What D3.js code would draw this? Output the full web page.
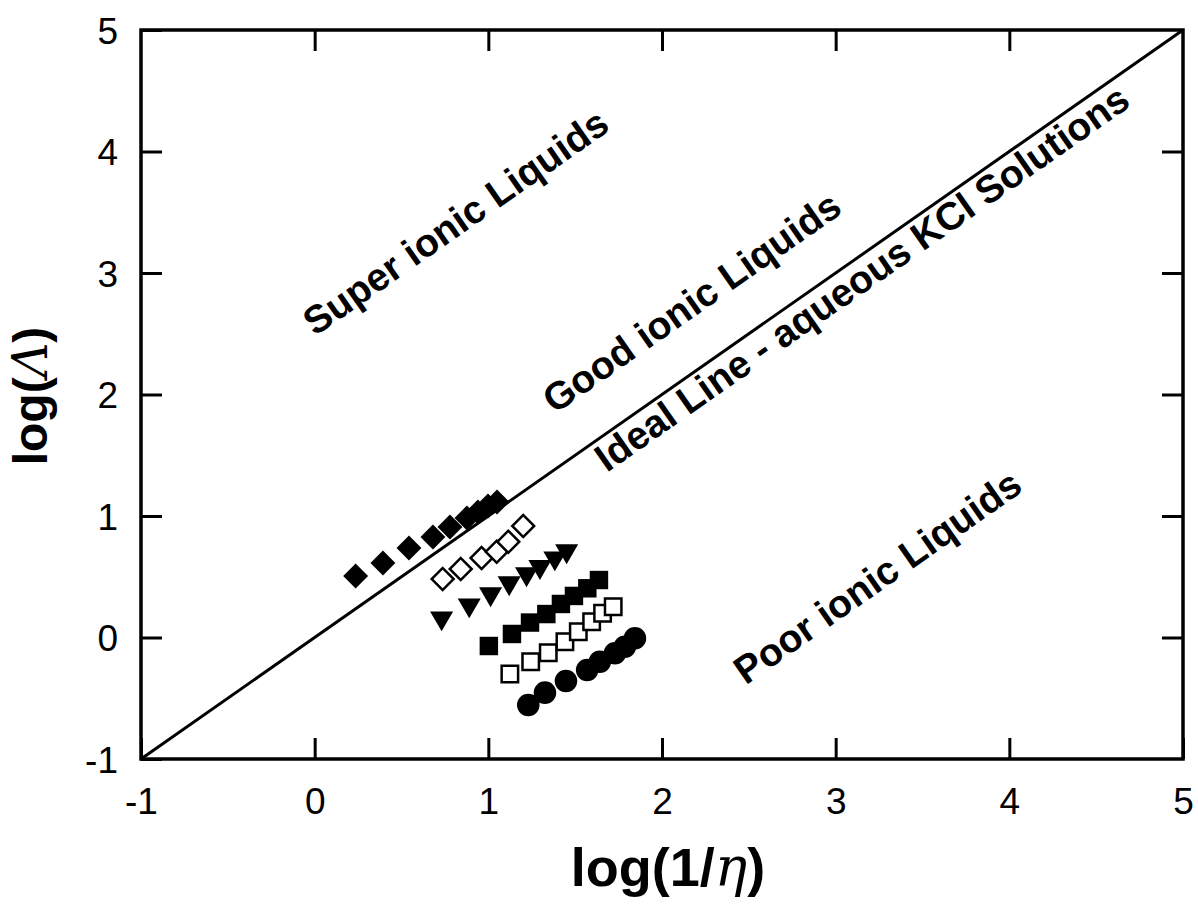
<!DOCTYPE html>
<html>
<head>
<meta charset="utf-8">
<script src="https://cdn.jsdelivr.net/npm/d3@7"></script>
<style>
  body { margin: 0; background: #fff; }
  text { font-family: "Liberation Sans", Arial, sans-serif; }
</style>
</head>
<body>
<div class="chart"></div>
<script>
// data: log(1/eta) vs log(Lambda)
var filledDiamondX = [0.236, 0.393, 0.543, 0.681, 0.779, 0.877, 0.940, 0.998, 1.050];
var filledDiamondY = [0.506, 0.613, 0.737, 0.827, 0.909, 0.984, 1.033, 1.082, 1.115];

var openDiamondX = [0.737, 0.841, 0.961, 1.048, 1.115, 1.201];
var openDiamondY = [0.481, 0.564, 0.654, 0.706, 0.788, 0.918];

var triangleX = [0.731, 0.890, 1.013, 1.120, 1.220, 1.297, 1.383, 1.451];
var triangleY = [0.160, 0.267, 0.358, 0.449, 0.523, 0.583, 0.654, 0.712];

var filledSquareX = [1.003, 1.136, 1.240, 1.334, 1.418, 1.493, 1.570, 1.637];
var filledSquareY = [-0.070, 0.029, 0.123, 0.193, 0.276, 0.342, 0.405, 0.473];

var openSquareX = [1.124, 1.244, 1.345, 1.441, 1.518, 1.595, 1.658, 1.719];
var openSquareY = [-0.300, -0.199, -0.125, -0.035, 0.048, 0.130, 0.199, 0.253];

var circleX = [1.230, 1.326, 1.447, 1.569, 1.642, 1.729, 1.786, 1.844];
var circleY = [-0.556, -0.454, -0.358, -0.267, -0.199, -0.130, -0.076, -0.007];

var idealLine = [-1, 5];
var xTicks = [-1, 0, 1, 2, 3, 4, 5];
var yTicks = [-1, 0, 1, 2, 3, 4, 5];

var regionLabels = [
  { text: "Super ionic Liquids", x: 0.81, y: 3.42 },
  { text: "Good ionic Liquids", x: 2.17, y: 2.76 },
  { text: "Ideal Line - aqueous KCl Solutions", x: 3.15, y: 2.96 },
  { text: "Poor ionic Liquids", x: 3.24, y: 0.50 }
];

var svgWidth = 1198;
var svgHeight = 916;
var margin = { top: 30, right: 15, bottom: 157, left: 141 };
var width = svgWidth - margin.left - margin.right;
var height = svgHeight - margin.top - margin.bottom;

var svg = d3.select(".chart")
  .append("svg")
  .attr("width", svgWidth)
  .attr("height", svgHeight);

var chartGroup = svg.append("g")
  .attr("transform", `translate(${margin.left}, ${margin.top})`);

var xScale = d3.scaleLinear().domain([-1, 5]).range([0, width]);
var yScale = d3.scaleLinear().domain([-1, 5]).range([height, 0]);

var fmt = d => String(d);

// axes, ticks pointing inward
var bottomAxis = d3.axisBottom(xScale).tickValues(xTicks).tickFormat(fmt).tickSizeInner(-21).tickSizeOuter(0).tickPadding(29);
var leftAxis = d3.axisLeft(yScale).tickValues(yTicks).tickFormat(fmt).tickSizeInner(-21).tickSizeOuter(0).tickPadding(23);
var topAxis = d3.axisTop(xScale).tickValues(xTicks.slice(1, -1)).tickSizeInner(-21).tickSizeOuter(0).tickFormat("");
var rightAxis = d3.axisRight(yScale).tickValues(yTicks.slice(1, -1)).tickSizeInner(-21).tickSizeOuter(0).tickFormat("");

function styleAxis(g) {
  g.select(".domain").remove();
  g.selectAll(".tick line").attr("stroke", "#000").attr("stroke-width", 3);
  g.selectAll(".tick text")
    .attr("fill", "#000")
    .attr("font-size", "37px");
}

chartGroup.append("g")
  .attr("transform", `translate(0, ${height})`)
  .call(bottomAxis)
  .call(styleAxis);

chartGroup.append("g")
  .call(leftAxis)
  .call(styleAxis)
  .selectAll(".tick text").attr("text-anchor", "end").attr("dy", "0.36em");

chartGroup.append("g").call(topAxis).call(styleAxis);
chartGroup.append("g").attr("transform", `translate(${width}, 0)`).call(rightAxis).call(styleAxis);

// frame
chartGroup.append("rect")
  .attr("x", 0).attr("y", 0)
  .attr("width", width).attr("height", height)
  .attr("fill", "none")
  .attr("stroke", "#000")
  .attr("stroke-width", 3.5);

// ideal line
chartGroup.append("line")
  .attr("x1", xScale(idealLine[0])).attr("y1", yScale(idealLine[0]))
  .attr("x2", xScale(idealLine[1])).attr("y2", yScale(idealLine[1]))
  .attr("stroke", "#000")
  .attr("stroke-width", 3);

// slope of the ideal line on screen, used for the rotated labels
var angle = Math.atan2(yScale(0) - yScale(1), xScale(1) - xScale(0)) * 180 / Math.PI;

chartGroup.selectAll(".region")
  .data(regionLabels)
  .enter()
  .append("text")
  .attr("class", "region")
  .attr("transform", d => `translate(${xScale(d.x)}, ${yScale(d.y)}) rotate(${-angle})`)
  .attr("text-anchor", "middle")
  .attr("dy", "0.35em")
  .attr("font-size", "39px")
  .attr("font-weight", "bold")
  .text(d => d.text);

// markers
function zipPts(xs, ys) {
  return xs.map((x, i) => ({ x: x, y: ys[i] }));
}

var series = [
  { xs: filledDiamondX, ys: filledDiamondY, type: d3.symbolSquare, size: 310, rot: 45, fill: "#000" },
  { xs: openDiamondX, ys: openDiamondY, type: d3.symbolSquare, size: 240, rot: 45, fill: "#fff" },
  { xs: triangleX, ys: triangleY, type: d3.symbolTriangle, size: 230, rot: 180, fill: "#000" },
  { xs: filledSquareX, ys: filledSquareY, type: d3.symbolSquare, size: 340, rot: 0, fill: "#000" },
  { xs: openSquareX, ys: openSquareY, type: d3.symbolSquare, size: 270, rot: 0, fill: "#fff" },
  { xs: circleX, ys: circleY, type: d3.symbolCircle, size: 400, rot: 0, fill: "#000" }
];

series.forEach(function(s) {
  chartGroup.append("g")
    .selectAll("path")
    .data(zipPts(s.xs, s.ys))
    .enter()
    .append("path")
    .attr("d", d3.symbol().type(s.type).size(s.size))
    .attr("transform", d => `translate(${xScale(d.x)}, ${yScale(d.y)}) rotate(${s.rot})`)
    .attr("fill", s.fill)
    .attr("stroke", "#000")
    .attr("stroke-width", s.fill === "#000" ? 0 : 2.5);
});

// axis titles
var xTitle = svg.append("text")
  .attr("x", 668)
  .attr("y", 886)
  .attr("text-anchor", "middle")
  .attr("font-size", "54px")
  .attr("font-weight", "bold");
xTitle.append("tspan").text("log(1/");
xTitle.append("tspan").attr("font-style", "italic").attr("font-weight", "normal")
  .attr("font-family", "'DejaVu Serif', serif").text("η");
xTitle.append("tspan").text(")");

var yTitle = svg.append("text")
  .attr("transform", "translate(47, 396) rotate(-90)")
  .attr("text-anchor", "middle")
  .attr("font-size", "48px")
  .attr("font-weight", "bold");
yTitle.append("tspan").text("log(");
yTitle.append("tspan").attr("font-style", "italic").attr("font-weight", "normal")
  .attr("font-family", "'DejaVu Serif', serif").text("Λ");
yTitle.append("tspan").text(")");
</script>
</body>
</html>
